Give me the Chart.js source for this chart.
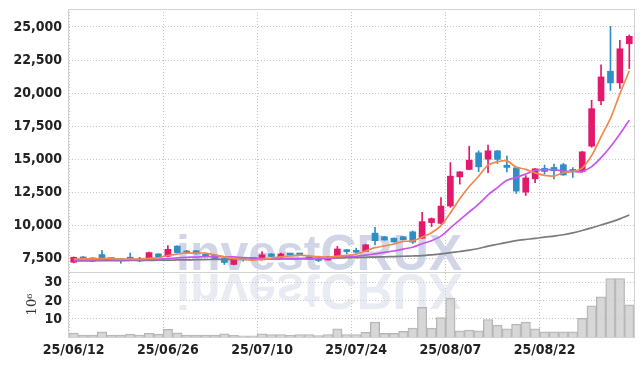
<!DOCTYPE html>
<html>
<head>
<meta charset="utf-8">
<script src="https://cdn.jsdelivr.net/npm/chart.js@4.4.1/dist/chart.umd.min.js"></script>
<style>
html, body { margin: 0; padding: 0; background: #fff; }
</style>
</head>
<body>
<canvas id="chart" width="642" height="366"></canvas>
<script>
// trading days (yy/mm/dd)
const dates = [
  "25/06/12","25/06/13","25/06/16","25/06/17","25/06/18","25/06/19","25/06/20","25/06/23","25/06/24","25/06/25",
  "25/06/26","25/06/27","25/06/30","25/07/01","25/07/02","25/07/03","25/07/04","25/07/07","25/07/08","25/07/09",
  "25/07/10","25/07/11","25/07/14","25/07/15","25/07/16","25/07/17","25/07/18","25/07/21","25/07/22","25/07/23",
  "25/07/24","25/07/25","25/07/28","25/07/29","25/07/30","25/07/31","25/08/01","25/08/04","25/08/05","25/08/06",
  "25/08/07","25/08/08","25/08/11","25/08/12","25/08/13","25/08/14","25/08/18","25/08/19","25/08/20","25/08/21",
  "25/08/22","25/08/25","25/08/26","25/08/27","25/08/28","25/08/29","25/09/01","25/09/02","25/09/03","25/09/04"
];

const opens = [
  7200,7600,7280,7780,7450,7420,7580,7300,7530,7830,
  7650,8420,8050,8070,7800,7720,7480,7030,7480,7460,
  7380,7830,7580,7860,7850,7620,7540,7370,7620,8130,
  8060,8020,9400,9130,9020,9130,9500,9020,10200,10140,
  11450,13660,14220,15480,15000,15630,14540,14340,12500,13510,
  14300,14370,14580,14110,14070,15980,19410,21650,20770,23730
];
const highs = [
  7600,7620,7540,8100,7520,7440,7900,7560,7970,7850,
  8450,8450,8100,8080,7850,7740,7500,7400,7500,7480,
  8000,7850,7900,7880,7870,7650,7560,7620,8400,8150,
  8260,8560,9840,9150,9040,9150,9560,10980,10550,12100,
  14740,14060,15980,15630,16060,15650,15230,14360,13760,14290,
  14550,14620,14680,14360,15580,19450,22140,25050,23980,24390
];
const lows = [
  7150,7380,7260,7500,7370,7120,7380,7250,7500,7560,
  7600,7900,7850,7800,7580,7450,7030,7000,7280,7380,
  7350,7620,7560,7720,7730,7410,7250,7350,7600,7830,
  7930,8000,8500,8860,8710,8880,8620,8990,9900,10100,
  11350,13110,14200,14040,13970,14670,14040,12400,12250,13210,
  13880,13500,13780,13610,14010,15900,19130,20200,20350,21850
];
const closes = [
  7575,7400,7520,7530,7400,7330,7400,7450,7930,7580,
  8180,7930,7900,7830,7620,7480,7180,7370,7400,7400,
  7760,7640,7830,7740,7750,7430,7330,7600,8200,8000,
  7950,8520,8830,8880,8730,8900,8720,10270,10500,11450,
  13710,14040,14920,14420,15630,14980,14370,12580,13580,14270,
  14070,14120,13800,14070,15550,18820,21220,20770,23350,24290
];

// volume, millions of shares
const volumes = [
  2.2,1.0,1.0,2.8,1.0,1.0,1.6,1.1,2.1,1.6,
  4.3,2.3,1.0,1.0,1.0,1.0,1.8,0.9,0.7,0.7,
  1.8,1.4,1.4,0.9,1.4,1.4,0.8,1.4,4.5,1.4,
  1.4,2.6,8.3,2.0,2.0,3.1,5.0,16.4,4.9,10.7,
  21.5,3.4,3.9,3.4,9.7,6.6,4.5,7.1,8.2,4.5,
  2.8,2.8,2.8,2.8,10.3,17.3,22.2,32.4,32.4,17.8
];

// moving averages
const ma5 = [
  7440,7450,7465,7480,7485,7436,7436,7422,7502,7538,
  7708,7814,7904,7884,7892,7752,7602,7496,7410,7366,
  7422,7514,7606,7674,7744,7678,7616,7570,7662,7712,
  7816,8054,8300,8436,8582,8772,8812,9100,9424,9968,
  10930,11994,12924,13708,14544,14798,14864,14396,14228,13956,
  13774,13724,13968,14066,14322,15272,16692,18086,19942,21690
];
const ma10 = [
  7380,7380,7385,7390,7395,7395,7400,7405,7410,7412,
  7472,7525,7563,7593,7615,7630,7608,7600,7547,7529,
  7487,7458,7451,7442,7455,7450,7465,7488,7568,7628,
  7647,7735,7835,7949,8047,8194,8333,8600,8830,9175,
  9800,10400,11000,11600,12300,12850,13400,13620,13880,14150,
  14200,14200,14100,14070,14060,14430,15110,15930,16900,17950
];
const ma60 = [
  7300,7300,7310,7310,7320,7320,7330,7330,7340,7350,
  7360,7370,7380,7390,7400,7410,7410,7420,7420,7430,
  7440,7450,7460,7470,7480,7490,7500,7510,7520,7540,
  7550,7570,7590,7610,7630,7650,7670,7700,7760,7830,
  7920,8010,8110,8240,8420,8560,8700,8830,8920,9000,
  9100,9180,9280,9420,9600,9800,10020,10230,10480,10770
];

const priceTicks = [7500, 10000, 12500, 15000, 17500, 20000, 22500, 25000];
const volTicks = [10, 20, 30];

const UP = "#e3196b";
const DOWN = "#2d8fc6";
const GRID = "#c3c6d4";
const FRAME = "#d2d2d2";
const tickFont = { family: '"Liberation Sans Narrow", "DejaVu Sans Condensed", sans-serif', size: 14, weight: "bold" };

const candleColors = closes.map((c, i) => c >= opens[i] ? UP : DOWN);

// fixed axis box: no extra room reserved for half tick labels
function fixY(s) {
  s.width = 69;
  s.paddingTop = 0;
  s.paddingBottom = 0;
}

// =========================
// Plugins
// =========================

const watermark = {
  id: "watermark",
  beforeDatasetsDraw(chart) {
    const ctx = chart.ctx;
    const area = chart.chartArea;
    const sep = chart.scales.yVol.top;
    ctx.save();
    ctx.font = 'bold 50px "Liberation Sans", Arial, sans-serif';
    ctx.textBaseline = "alphabetic";
    ctx.fillStyle = "rgba(190,198,222,0.72)";
    ctx.fillText("investCRUX", area.left + 107, sep - 2);
    ctx.translate(0, sep * 2);
    ctx.scale(1, -1);
    ctx.fillStyle = "rgba(200,205,222,0.4)";
    ctx.fillText("investCRUX", area.left + 107, sep - 2);
    ctx.restore();
  }
};

const frame = {
  id: "frame",
  afterDraw(chart) {
    const ctx = chart.ctx;
    const a = chart.chartArea;
    const sep = Math.round(chart.scales.yVol.top) + 0.5;
    ctx.save();
    ctx.strokeStyle = FRAME;
    ctx.lineWidth = 1;
    ctx.strokeRect(Math.round(a.left) - 0.5, Math.round(a.top) + 0.5,
                   Math.round(a.right - a.left) + 1, Math.round(a.bottom - a.top));
    ctx.beginPath();
    ctx.moveTo(a.left, sep);
    ctx.lineTo(a.right, sep);
    ctx.stroke();
    ctx.restore();
  }
};

// =========================
// Chart
// =========================

new Chart(document.getElementById("chart"), {
  type: "bar",
  data: {
    labels: dates,
    datasets: [
      { type: "line", data: ma5, yAxisID: "y", borderColor: "#ef8a4f", borderWidth: 1.7, pointRadius: 0, tension: 0.3 },
      { type: "line", data: ma10, yAxisID: "y", borderColor: "#c855ec", borderWidth: 1.7, pointRadius: 0, tension: 0.3 },
      { type: "line", data: ma60, yAxisID: "y", borderColor: "#7b7b7b", borderWidth: 1.7, pointRadius: 0, tension: 0.3 },
      { data: opens.map((o, i) => [o, closes[i]]), yAxisID: "y", grouped: false,
        backgroundColor: candleColors, borderWidth: 0, barThickness: 6, minBarLength: 2 },
      { data: lows.map((l, i) => [l, highs[i]]), yAxisID: "y", grouped: false,
        backgroundColor: candleColors, borderWidth: 0, barThickness: 1 },
      { data: volumes, yAxisID: "yVol", grouped: false,
        backgroundColor: "rgba(205,205,205,0.8)", borderColor: "#b4b4b4", borderWidth: 1,
        barPercentage: 1, categoryPercentage: 1 }
    ]
  },
  options: {
    responsive: false,
    animation: false,
    layout: { padding: { left: 0, top: 9, right: 8, bottom: 0 } },
    plugins: { legend: { display: false }, tooltip: { enabled: false } },
    scales: {
      x: {
        offset: true,
        grid: { color: c => c.index % 10 === 0 ? GRID : "rgba(0,0,0,0)", drawTicks: false },
        border: { display: false, dash: [1, 2] },
        ticks: { autoSkip: false, maxRotation: 0, padding: 5, color: "#222", font: tickFont,
                 callback: (v, i) => i % 10 === 0 ? dates[i] : "" },
        afterFit: s => { s.height = 29; s.paddingLeft = 0; s.paddingRight = 0; }
      },
      // left boxes are laid out in reverse, so the volume panel is listed first to sit at the bottom
      yVol: {
        position: "left", stack: "main", stackWeight: 65,
        min: 0, max: 36,
        afterBuildTicks: s => { s.ticks = volTicks.map(v => ({ value: v })); },
        grid: { color: GRID, drawTicks: false },
        border: { display: false, dash: [1, 2] },
        ticks: { autoSkip: false, padding: 7, color: "#222", font: tickFont },
        title: { display: true, text: "10\u2076", color: "#333", padding: { top: 25 },
                 font: { family: '"DejaVu Serif", serif', size: 13 } },
        afterFit: fixY
      },
      y: {
        position: "left", stack: "main", stackWeight: 263,
        min: 6460, max: 26360,
        afterBuildTicks: s => { s.ticks = priceTicks.map(v => ({ value: v })); },
        grid: { color: GRID, drawTicks: false },
        border: { display: false, dash: [1, 2] },
        ticks: { autoSkip: false, padding: 7, color: "#222", font: tickFont, callback: v => v.toLocaleString("en-US") },
        afterFit: fixY
      }
    }
  },
  plugins: [watermark, frame]
});
</script>
</body>
</html>
